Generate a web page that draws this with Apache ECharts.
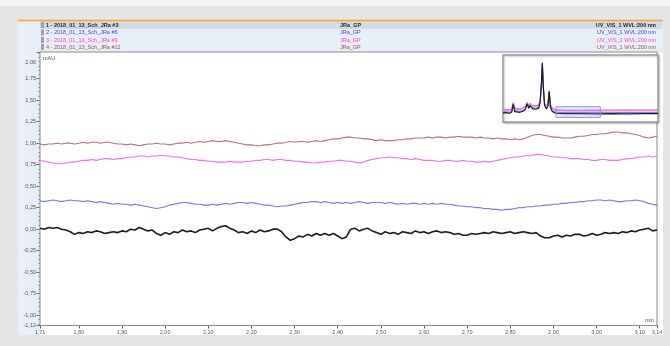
<!DOCTYPE html>
<html>
<head>
<meta charset="utf-8">
<script src="https://cdn.jsdelivr.net/npm/echarts@6/dist/echarts.min.js"></script>
<style>
  html, body { margin: 0; padding: 0; background: #e5e5e5; }
  #chart { width: 670px; height: 346px; }
</style>
</head>
<body>
<div id="chart"></div>
<script>
// Retention-time window shown in the main plot (min) and the signal range (mAU)
const viewStart = 1.71, viewEnd = 3.14;
const signalMin = -1.12, signalMax = 2.06;

// Acquisition grid of the traces: one sample every 0.01 min from viewStart
const sampleStart = 1.71, sampleStep = 0.01;

// Channel UV_VIS_1, WVL 200 nm, in mAU
const run3 = [
  0.01,0.00,0.02,0.01,0.02,0.00,-0.01,-0.03,-0.06,-0.04,
  -0.05,-0.03,-0.04,-0.02,-0.03,-0.05,-0.04,-0.03,-0.04,-0.02,
  -0.03,0.00,-0.01,0.02,0.00,-0.02,-0.01,-0.05,-0.07,-0.04,
  -0.06,-0.03,-0.04,-0.01,-0.03,-0.02,-0.04,-0.01,0.00,0.01,
  -0.02,0.01,0.03,0.04,0.01,-0.01,-0.04,-0.03,-0.05,-0.02,
  -0.04,-0.01,-0.03,-0.02,0.00,0.00,-0.03,-0.09,-0.13,-0.11,
  -0.08,-0.09,-0.06,-0.08,-0.05,-0.07,-0.05,-0.07,-0.05,-0.08,
  -0.11,-0.09,0.00,0.01,-0.02,0.00,0.01,-0.02,-0.04,-0.06,
  -0.03,-0.05,-0.04,-0.06,-0.03,-0.04,-0.05,-0.02,-0.04,-0.03,
  -0.05,-0.03,-0.02,-0.04,-0.03,-0.04,-0.06,-0.05,-0.07,-0.07,
  -0.05,-0.06,-0.05,-0.04,-0.05,-0.03,-0.04,-0.05,-0.04,-0.03,
  -0.05,-0.04,-0.03,-0.04,-0.05,-0.04,-0.08,-0.10,-0.10,-0.08,
  -0.07,-0.09,-0.07,-0.08,-0.06,-0.06,-0.08,-0.07,-0.05,-0.07,
  -0.06,-0.04,-0.05,-0.04,-0.05,-0.03,-0.04,-0.02,-0.03,-0.01,
  0.00,0.01,-0.02,-0.01
];
const run6 = [
  0.33,0.32,0.33,0.34,0.33,0.32,0.33,0.34,0.33,0.33,
  0.32,0.33,0.32,0.31,0.32,0.31,0.30,0.29,0.30,0.29,
  0.29,0.28,0.29,0.28,0.27,0.26,0.25,0.24,0.25,0.26,
  0.28,0.29,0.30,0.31,0.31,0.30,0.29,0.29,0.28,0.28,
  0.29,0.28,0.29,0.30,0.29,0.30,0.31,0.31,0.30,0.31,
  0.30,0.29,0.28,0.28,0.27,0.26,0.27,0.27,0.28,0.29,
  0.30,0.31,0.31,0.32,0.32,0.31,0.32,0.31,0.30,0.31,
  0.30,0.31,0.30,0.31,0.32,0.31,0.30,0.31,0.31,0.31,
  0.30,0.31,0.30,0.29,0.30,0.29,0.30,0.30,0.29,0.30,
  0.29,0.30,0.29,0.30,0.29,0.29,0.28,0.27,0.27,0.26,
  0.26,0.25,0.25,0.24,0.24,0.23,0.23,0.22,0.23,0.23,
  0.24,0.25,0.25,0.26,0.26,0.27,0.27,0.28,0.28,0.29,
  0.29,0.30,0.30,0.31,0.31,0.32,0.32,0.33,0.33,0.34,
  0.34,0.33,0.34,0.33,0.32,0.32,0.33,0.33,0.34,0.33,
  0.32,0.30,0.29,0.28
];
const run9 = [
  0.80,0.79,0.78,0.77,0.76,0.76,0.77,0.78,0.78,0.79,
  0.80,0.80,0.81,0.80,0.81,0.82,0.82,0.81,0.82,0.82,
  0.83,0.84,0.84,0.85,0.85,0.84,0.85,0.85,0.86,0.85,
  0.85,0.84,0.84,0.83,0.82,0.81,0.81,0.80,0.80,0.79,
  0.79,0.78,0.78,0.78,0.79,0.78,0.78,0.78,0.79,0.79,
  0.80,0.80,0.81,0.81,0.80,0.81,0.81,0.80,0.80,0.79,
  0.79,0.78,0.78,0.77,0.77,0.78,0.78,0.79,0.79,0.80,
  0.80,0.79,0.79,0.78,0.77,0.78,0.80,0.81,0.82,0.83,
  0.83,0.84,0.83,0.83,0.82,0.82,0.81,0.82,0.81,0.80,
  0.80,0.80,0.79,0.79,0.80,0.80,0.79,0.79,0.80,0.79,
  0.79,0.78,0.78,0.79,0.78,0.79,0.80,0.81,0.82,0.83,
  0.84,0.84,0.85,0.86,0.86,0.87,0.87,0.86,0.85,0.84,
  0.84,0.83,0.83,0.82,0.82,0.82,0.81,0.81,0.80,0.80,
  0.81,0.81,0.80,0.80,0.80,0.81,0.82,0.82,0.83,0.84,
  0.84,0.85,0.84,0.85
];
const run12 = [
  0.99,0.98,0.99,0.99,1.00,0.99,1.00,1.00,0.99,1.00,
  1.01,1.00,1.01,1.01,1.00,1.01,1.01,1.00,0.99,0.99,
  0.98,0.99,0.98,0.97,0.98,0.99,0.99,1.00,0.99,0.99,
  0.98,0.99,1.00,1.00,1.01,1.00,1.01,1.02,1.01,1.02,
  1.03,1.02,1.02,1.03,1.02,1.01,1.00,0.99,0.98,0.98,
  0.97,0.97,0.98,0.98,0.99,1.00,1.00,1.01,1.02,1.01,
  1.02,1.02,1.01,1.02,1.03,1.02,1.03,1.04,1.05,1.05,
  1.06,1.07,1.07,1.06,1.06,1.05,1.05,1.04,1.03,1.04,
  1.03,1.03,1.03,1.04,1.04,1.05,1.05,1.06,1.06,1.06,
  1.07,1.06,1.07,1.07,1.06,1.07,1.07,1.08,1.07,1.07,
  1.07,1.06,1.07,1.06,1.06,1.05,1.06,1.05,1.05,1.04,
  1.05,1.04,1.05,1.07,1.09,1.10,1.10,1.09,1.08,1.07,
  1.07,1.06,1.06,1.06,1.07,1.08,1.08,1.09,1.10,1.10,
  1.11,1.11,1.12,1.13,1.13,1.12,1.12,1.11,1.10,1.09,
  1.07,1.06,1.07,1.08
];

// Whole-run overview for the navigator window (min, mAU)
const overviewTimes = [0.00,0.10,0.20,0.28,0.33,0.38,0.45,0.55,0.65,0.72,0.78,0.83,0.88,0.95,1.05,1.15,1.20,1.24,1.27,1.30,1.34,1.40,1.45,1.49,1.53,1.58,1.65,1.75,2.00,2.50,3.00,3.50,4.00,4.50,5.00];
const overview3  = [0.2,0.3,0.1,0.4,2.8,0.6,0.5,0.4,0.7,1.2,2.9,1.6,2.4,1.5,1.3,1.6,3.5,9.0,15.2,8.0,2.5,1.4,2.2,6.6,2.0,0.8,0.3,0.1,0.0,0.0,-0.05,0.0,-0.05,0.0,0.0];
const overview6  = [0.5,0.6,0.4,0.7,2.9,0.9,0.8,0.7,1.0,1.5,3.0,1.9,2.6,1.8,1.6,1.9,3.6,8.8,14.6,7.8,2.7,1.7,2.4,6.4,2.2,1.1,0.6,0.4,0.3,0.3,0.28,0.3,0.32,0.3,0.3];
const overview9  = [1.0,1.1,0.9,1.2,3.2,1.4,1.3,1.2,1.5,2.0,3.3,2.3,3.0,2.3,2.1,2.4,4.0,9.2,15.0,8.2,3.1,2.2,2.8,6.8,2.6,1.6,1.1,0.9,0.8,0.8,0.8,0.8,0.82,0.8,0.84];
const overview12 = [1.2,1.3,1.1,1.4,3.3,1.6,1.5,1.4,1.7,2.2,3.4,2.5,3.1,2.5,2.3,2.6,4.1,9.1,14.8,8.1,3.2,2.4,3.0,6.7,2.8,1.8,1.3,1.1,1.0,1.0,1.05,1.07,1.1,1.1,1.08];

// Axis tick labels
const xTickValues = [1.71,1.80,1.90,2.00,2.10,2.20,2.30,2.40,2.50,2.60,2.70,2.80,2.90,3.00,3.10,3.14];
const yTickValues = [-1.12,-1.00,-0.75,-0.50,-0.25,0.00,0.25,0.50,0.75,1.00,1.25,1.50,1.75,2.06];

// Overlay legend rows: injection, program, channel
const injections = ['1 - 2018_01_13_Sch_JRa #3','2 - 2018_01_13_Sch_JRa #6','3 - 2018_01_13_Sch_JRa #9','4 - 2018_01_13_Sch_JRa #12'];
const programs = ['JRa_GP','JRa_GP','JRa_GP','JRa_GP'];
const channels = ['UV_VIS_1 WVL:200 nm','UV_VIS_1 WVL:200 nm','UV_VIS_1 WVL:200 nm','UV_VIS_1 WVL:200 nm'];

const lineColors = ['#1c1c1c', '#7474ff', '#f46cf0', '#b87272'];
const textColors = ['#222222', '#3a3aff', '#ff3cf5', '#a04848'];

const FONT = '"Liberation Sans", Arial, sans-serif';
const comma = v => v.toFixed(2).replace('.', ',');

function pairs(values) {
  return values.map((v, i) => [+(sampleStart + i * sampleStep).toFixed(2), v]);
}
function overviewPairs(values) {
  return values.map((v, i) => [overviewTimes[i], v]);
}

// Minor tick positions (no labels)
const xMinor = [];
for (let k = 172; k <= 314; k += 2) xMinor.push(k / 100);
const yMinor = [];
for (let k = -110; k <= 205; k += 5) yMinor.push(k / 100);

const chart = echarts.init(document.getElementById('chart'), null, { renderer: 'canvas' });

const graphics = [
  { type: 'rect', z: -20, shape: { x: 0, y: 0, width: 670, height: 6 }, style: { fill: '#f3f3f3' } },
  { type: 'rect', z: -19, shape: { x: 18, y: 20, width: 645, height: 315 }, style: { fill: '#ffffff' } },
  { type: 'rect', z: -18, shape: { x: 18, y: 20, width: 645, height: 33 }, style: { fill: '#e8eff9' } },
  { type: 'rect', z: -18, shape: { x: 18, y: 20, width: 22, height: 315 }, style: { fill: '#e8eff9' } },
  { type: 'rect', z: -17, shape: { x: 40, y: 21, width: 622, height: 8 }, style: { fill: '#d6dae4' } },
  { type: 'line', z: -16, shape: { x1: 18, y1: 20.5, x2: 663, y2: 20.5 }, style: { stroke: '#f2a33a', lineWidth: 1.5 } },
  { type: 'text', z: 10, left: 43, top: 55, style: { text: 'mAU', font: '5.5px ' + FONT, fill: '#555' } },
  { type: 'text', z: 10, left: 645, top: 317, style: { text: 'min', font: '5.5px ' + FONT, fill: '#555' } }
];
const rowY = [25, 32.5, 40, 47];
injections.forEach((name, i) => {
  graphics.push({ type: 'rect', z: -15, shape: { x: 41, y: rowY[i] - 3, width: 3, height: 6 }, style: { fill: '#9aa0ae' } });
  graphics.push({ type: 'text', z: 10, x: 46, y: rowY[i], style: { text: name, font: (i === 0 ? 'bold ' : '') + '5.5px ' + FONT, fill: textColors[i], verticalAlign: 'middle' } });
  graphics.push({ type: 'text', z: 10, x: 340, y: rowY[i], style: { text: programs[i], font: (i === 0 ? 'bold ' : '') + '5.5px ' + FONT, fill: textColors[i], verticalAlign: 'middle' } });
  graphics.push({ type: 'text', z: 10, x: 656, y: rowY[i], style: { text: channels[i], font: (i === 0 ? 'bold ' : '') + '5.5px ' + FONT, fill: textColors[i], align: 'right', verticalAlign: 'middle' } });
});

const mainRuns = [run3, run6, run9, run12];
const overviews = [overview3, overview6, overview9, overview12];

const series = [];
// main traces, drawn so that the first injection sits on top
for (let i = 3; i >= 0; i--) {
  series.push({
    type: 'line', xAxisIndex: 0, yAxisIndex: 0, showSymbol: false, silent: true,
    data: pairs(mainRuns[i]),
    lineStyle: { color: lineColors[i], width: i === 0 ? 1.6 : 1.1 },
    z: 10 - i
  });
}
// navigator overview traces; the first one also carries the zoom window box
for (let i = 3; i >= 0; i--) {
  const s = {
    type: 'line', xAxisIndex: 2, yAxisIndex: 2, showSymbol: false, silent: true,
    data: overviewPairs(overviews[i]),
    lineStyle: { color: lineColors[i], width: i === 0 ? 1.2 : 1 },
    z: 20 - i
  };
  if (i === 0) {
    s.markArea = {
      silent: true,
      z: 30,
      itemStyle: { color: 'rgba(140,140,255,0.18)', borderColor: '#8c8cff', borderWidth: 1 },
      data: [[{ coord: [viewStart, signalMin] }, { coord: [viewEnd, signalMax] }]]
    };
  }
  series.push(s);
}

chart.setOption({
  backgroundColor: '#e5e5e5',
  animation: false,
  graphic: graphics,
  grid: [
    { left: 40, right: 13, top: 52, height: 273.5, show: true, backgroundColor: '#ffffff', borderColor: '#8a8a8a', borderWidth: 1, z: 1 },
    { left: 503, top: 55, width: 155, height: 67, show: true, backgroundColor: '#ffffff', borderColor: '#9a9a9a', borderWidth: 1.5, z: 5,
      shadowColor: 'rgba(0,0,0,0.25)', shadowBlur: 2, shadowOffsetX: 1, shadowOffsetY: 1 }
  ],
  xAxis: [
    { type: 'value', gridIndex: 0, min: viewStart, max: viewEnd,
      axisLine: { show: true, onZero: false, lineStyle: { color: '#777', width: 1 } },
      axisTick: { show: true, length: 3, customValues: xTickValues, lineStyle: { color: '#666' } },
      axisLabel: { customValues: xTickValues, formatter: comma, fontSize: 5.5, fontFamily: FONT, color: '#555', margin: 4 },
      splitLine: { show: false } },
    { type: 'value', gridIndex: 0, min: viewStart, max: viewEnd, position: 'bottom',
      axisLine: { show: false },
      axisTick: { show: true, length: 1.5, customValues: xMinor, lineStyle: { color: '#888' } },
      axisLabel: { show: false }, splitLine: { show: false } },
    { type: 'value', gridIndex: 1, min: 0, max: 5, show: false }
  ],
  yAxis: [
    { type: 'value', gridIndex: 0, min: signalMin, max: signalMax,
      axisLine: { show: true, onZero: false, lineStyle: { color: '#777', width: 1 } },
      axisTick: { show: true, length: 3.5, customValues: yTickValues, lineStyle: { color: '#666' } },
      axisLabel: {
        customValues: yTickValues, fontSize: 5.5, fontFamily: FONT, color: '#555', margin: 4,
        formatter: v => v === signalMax ? '{top|' + comma(v) + '}' : comma(v),
        rich: { top: { fontSize: 5.5, fontFamily: FONT, color: '#555', padding: [20, 0, 0, 0] } }
      },
      splitLine: { show: false } },
    { type: 'value', gridIndex: 0, min: signalMin, max: signalMax, position: 'left',
      axisLine: { show: false },
      axisTick: { show: true, length: 1.5, customValues: yMinor, lineStyle: { color: '#888' } },
      axisLabel: { show: false }, splitLine: { show: false } },
    { type: 'value', gridIndex: 1, min: -2.5, max: 17.5, show: false }
  ],
  series: series
});
</script>
</body>
</html>
